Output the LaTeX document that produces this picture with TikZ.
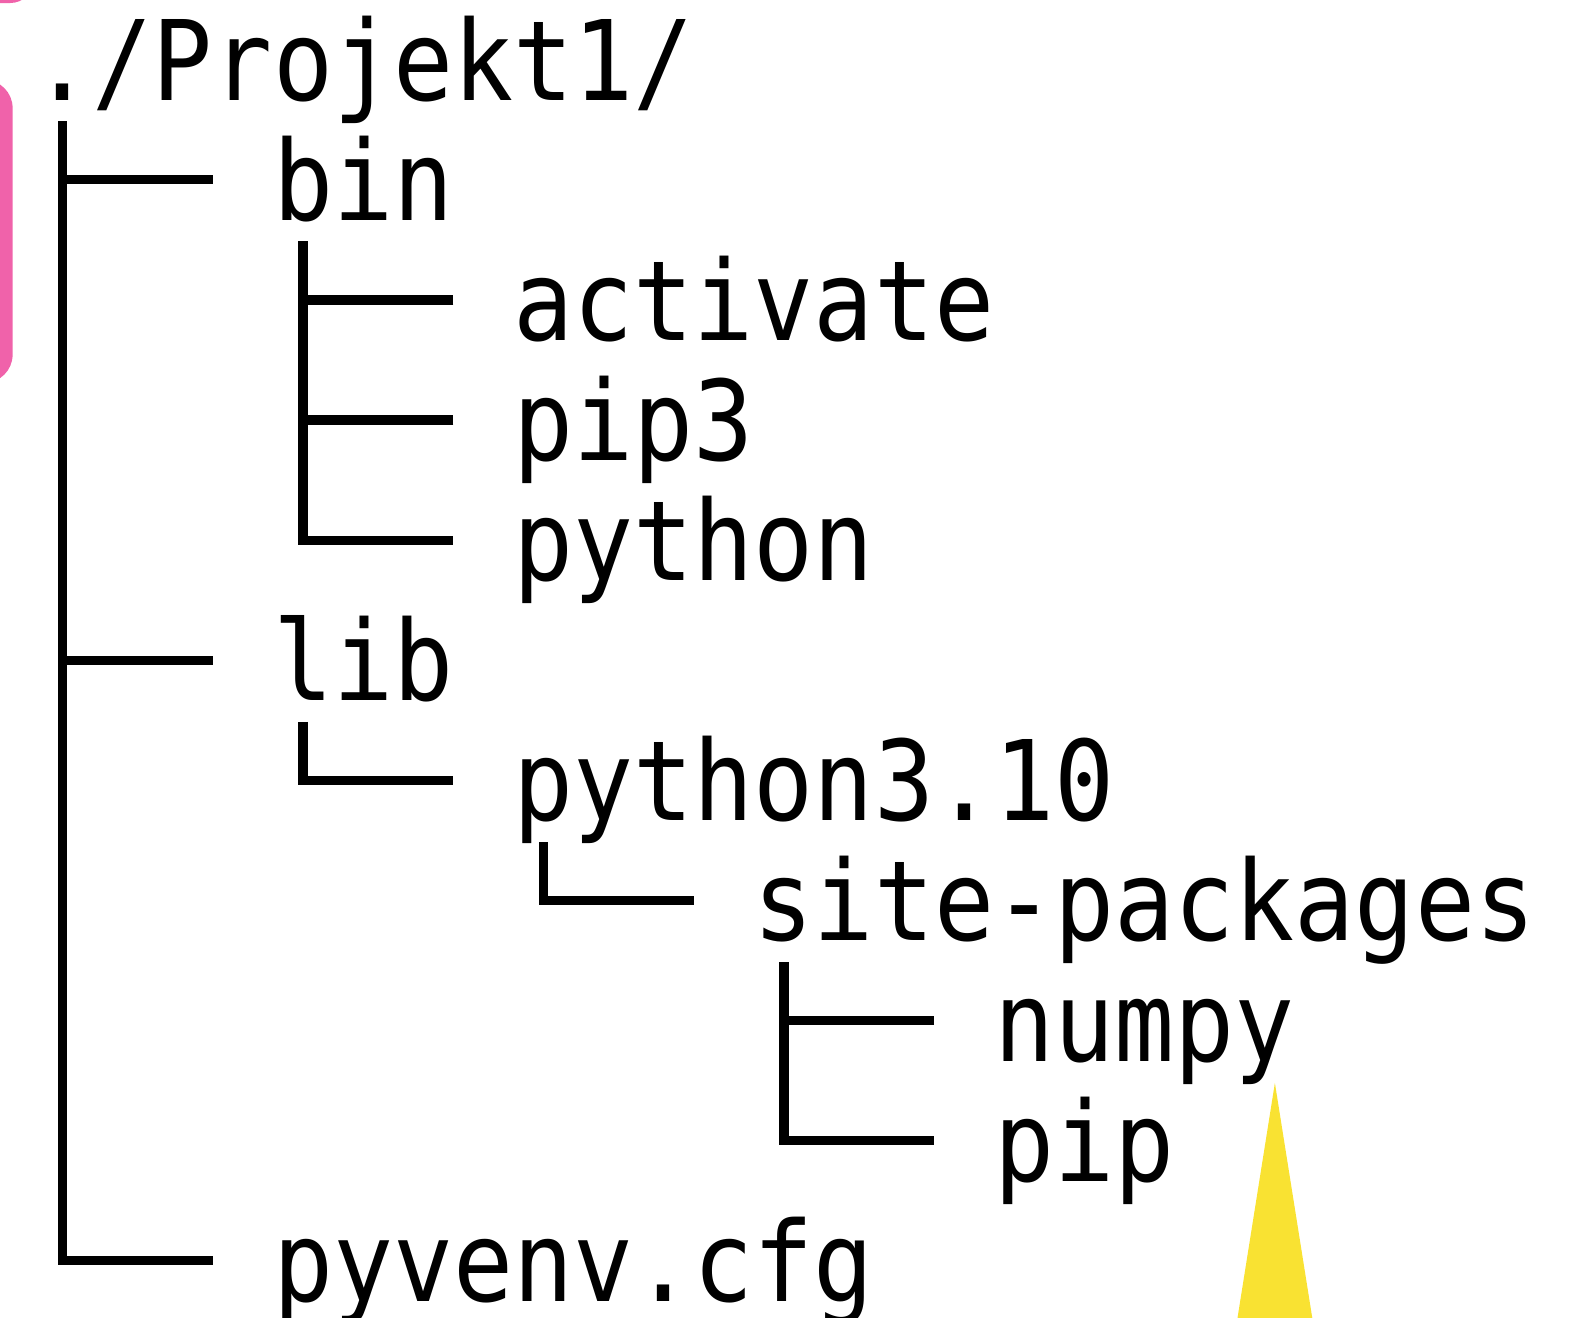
\documentclass[tikz,border=0pt]{standalone}
\usepackage{fontspec}
\setmonofont[FakeStretch=0.8985]{DejaVu Sans Mono}
\usetikzlibrary{calc}
\definecolor{pinkmark}{RGB}{240,98,170}
\definecolor{yellowmark}{RGB}{249,226,50}
\tikzset{
 entry/.style={anchor=base west,inner sep=0pt,outer sep=0pt},
 branch/.style={line width=4.6pt,line join=miter}
}
\begin{document}
\begin{tikzpicture}[x=0.5pt,y=-0.5pt,font=\ttfamily\fontsize{55}{66}\selectfont]
 \useasboundingbox (0,0) rectangle (1568,1304);
 % cut marks at the edges
 \begin{scope}
 \clip (0,0) rectangle (1568,1304);
 \fill[pinkmark,rounded corners=14] (-40,79) rectangle (12.5,379);
 \fill[pinkmark,rounded corners=12] (-40,-40) rectangle (34,3);
 \fill[yellowmark] (1262,1072) -- (1311,1380) -- (1213,1380) -- cycle;
 \end{scope}
 % entries
 \node[entry] (root) at (32.25,99.1) {./Projekt1/};
 \node[entry] (bin) at (270.25,218) {bin};
 \node[entry] (activate) at (508.25,336.9) {activate};
 \node[entry] (pipthree) at (508.25,455.8) {pip3};
 \node[entry] (pybin) at (508.25,574.7) {python};
 \node[entry] (lib) at (270.25,693.6) {lib};
 \node[entry] (pyver) at (508.25,812.5) {python3.10};
 \node[entry] (sitepkg) at (746.25,931.4) {site-packages};
 \node[entry] (numpy) at (984.25,1050.3) {numpy};
 \node[entry] (pip) at (984.25,1169.2) {pip};
 \node[entry] (pyvenv) at (270.25,1288.1) {pyvenv.cfg};
 % tree lines
 \foreach \c in {bin,lib,activate,pipthree,numpy}
 \draw[branch] ($(\c.base west)+(-59.5,-40)$) -- ++(-148.75,0);
 \foreach \p/\c in {root/pyvenv,bin/pybin,lib/pyver,pyver/sitepkg,sitepkg/pip}
 \draw[branch] ($(\p.base west)+(29.75,21)$) |- ($(\c.base west)+(-59.5,-40)$);
\end{tikzpicture}
\end{document}
